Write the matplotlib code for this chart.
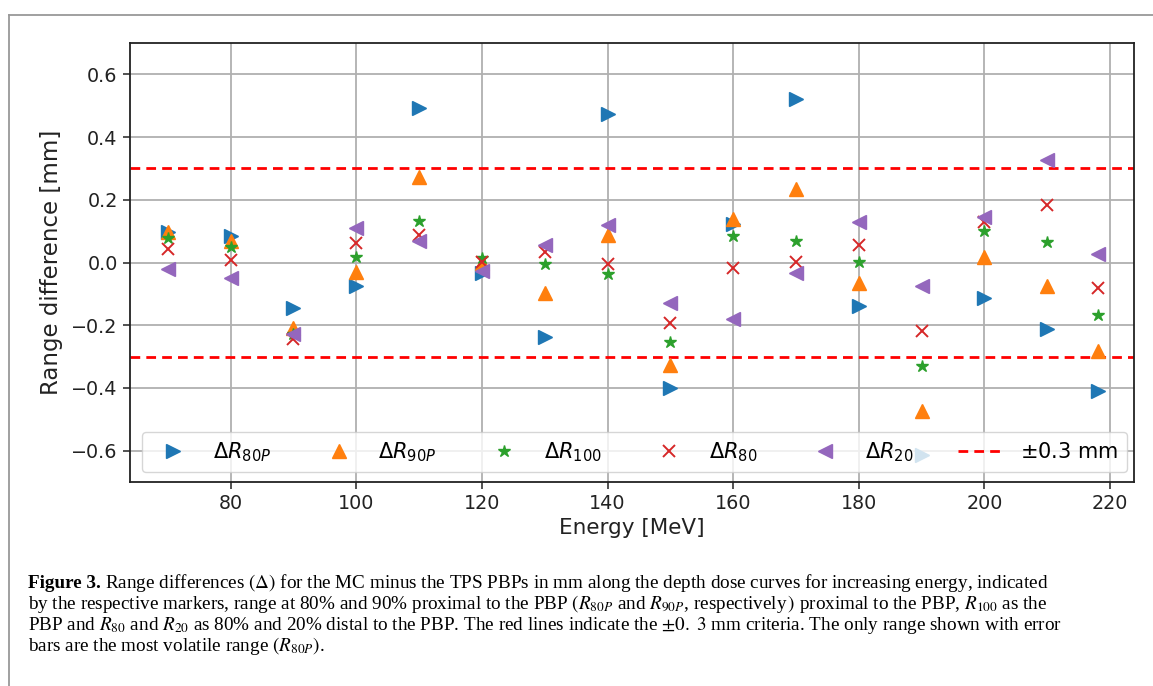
import matplotlib
matplotlib.use("Agg")
import matplotlib.pyplot as plt
from matplotlib.lines import Line2D

# ---- data ----
energy = [70, 80, 90, 100, 110, 120, 130, 140, 150, 160, 170, 180, 190, 200, 210, 218]
d_r80p = [0.096, 0.085, -0.145, -0.075, 0.493, -0.035, -0.236, 0.472, -0.400, 0.123, 0.521, -0.138, -0.613, -0.112, -0.213, -0.411]
d_r90p = [0.096, 0.070, -0.209, -0.030, 0.274, 0.000, -0.096, 0.089, -0.328, 0.140, 0.235, -0.065, -0.474, 0.016, -0.075, -0.281]
d_r100 = [0.078, 0.050, -0.227, 0.019, 0.132, 0.015, -0.005, -0.038, -0.253, 0.086, 0.070, 0.003, -0.331, 0.100, 0.066, -0.166]
d_r80 = [0.043, 0.009, -0.245, 0.061, 0.087, 0.002, 0.034, -0.004, -0.193, -0.018, 0.003, 0.057, -0.218, 0.129, 0.183, -0.080]
d_r20 = [-0.022, -0.048, -0.227, 0.110, 0.069, -0.026, 0.057, 0.121, -0.128, -0.181, -0.035, 0.128, -0.076, 0.145, 0.328, 0.027]
criterion = 0.3

series_labels = [r"$\Delta R_{80P}$", r"$\Delta R_{90P}$", r"$\Delta R_{100}$", r"$\Delta R_{80}$", r"$\Delta R_{20}$"]
crit_label = r"$\pm$0.3 mm"
xlabel = "Energy [MeV]"
ylabel = "Range difference [mm]"
xticks = [80, 100, 120, 140, 160, 180, 200, 220]
yticks = [-0.6, -0.4, -0.2, 0.0, 0.2, 0.4, 0.6]

W, H = 1153, 686
fig = plt.figure(figsize=(W / 100, H / 100), dpi=100)
fig.patch.set_facecolor("white")

ax = fig.add_axes([129.5 / W, 1 - 482 / H, (1134 - 129.5) / W, (482 - 43) / H])

styles = [
    dict(marker=">", color="#1f77b4", ms=9.5),
    dict(marker="^", color="#ff7f0e", ms=9.5),
    dict(marker="*", color="#2ca02c", ms=9),
    dict(marker="x", color="#d62728", ms=8.5, mew=1.4),
    dict(marker="<", color="#9467bd", ms=9.5),
]
data = [d_r80p, d_r90p, d_r100, d_r80, d_r20]
handles = []
for vals, st, lab in zip(data, styles, series_labels):
    h, = ax.plot(energy, vals, linestyle="none", label=lab, zorder=3, **st)
    handles.append(h)

hl = ax.axhline(criterion, color="red", linestyle="--", lw=2, dashes=(3.5, 2.2), zorder=2, label=crit_label)
ax.axhline(-criterion, color="red", linestyle="--", lw=2, dashes=(3.5, 2.2), zorder=2)
handles.append(hl)

ax.set_xlim(63.9, 223.8)
ax.set_ylim(-0.7, 0.7)
ax.set_xticks(xticks)
ax.set_yticks(yticks)
ax.set_yticklabels([("\u2212" if v < 0 else "") + f"{abs(v):.1f}" for v in yticks])
ax.grid(True, color="#b0b0b0", lw=1.3)
ax.set_axisbelow(True)
for s in ax.spines.values():
    s.set_linewidth(1.3)
    s.set_color("#222222")
ax.tick_params(labelsize=13.8, length=5, width=1.1, colors="#222222")
ax.set_xlabel(xlabel, fontsize=15.5, color="#222222", labelpad=4)
ax.set_ylabel(ylabel, fontsize=16.5, color="#222222", labelpad=6)

leg = ax.legend(handles=handles, ncol=6, loc="lower left",
                bbox_to_anchor=(0.0124, 0.0228, 0.9806, 0.1025), mode="expand",
                borderaxespad=0, fontsize=15, framealpha=0.8, handlelength=2.2,
                handletextpad=0.8, columnspacing=1.0)

# ---- border ----
fig.add_artist(Line2D([8.5 / W, 8.5 / W], [0, 1 - 14.5 / H], color="#999999", lw=1.3,
                      transform=fig.transFigure))
fig.add_artist(Line2D([8.5 / W, 1], [1 - 14.5 / H, 1 - 14.5 / H], color="#999999", lw=1.3,
                      transform=fig.transFigure))

# ---- caption ----
cap_font = "Liberation Serif"
cap_size = 13.8
x0 = 28 / W
lines_y = [588, 609, 630, 651]
fig.canvas.draw()
r = fig.canvas.get_renderer()
t_bold = fig.text(x0, 1 - lines_y[0] / H, "Figure 3.", fontsize=cap_size, family=cap_font,
                  weight="bold", va="baseline", ha="left")
bb = t_bold.get_window_extent(renderer=r)
fig.text(bb.x1 / W + 4 / W, 1 - lines_y[0] / H,
         r"Range differences $(\Delta)$ for the MC minus the TPS PBPs in mm along the depth dose curves for increasing energy, indicated",
         fontsize=cap_size, family=cap_font, va="baseline", ha="left", math_fontfamily="stix")
cap_rest = [
    r"by the respective markers, range at 80% and 90% proximal to the PBP $(R_{80P}$ and $R_{90P}$, respectively$\,)$ proximal to the PBP, $R_{100}$ as the",
    r"PBP and $R_{80}$ and $R_{20}$ as 80% and 20% distal to the PBP. The red lines indicate the $\pm0.\ 3$ mm criteria. The only range shown with error",
    r"bars are the most volatile range $(R_{80P})$.",
]
for ly, txt in zip(lines_y[1:], cap_rest):
    fig.text(x0, 1 - ly / H, txt, fontsize=cap_size, family=cap_font, va="baseline", ha="left",
             math_fontfamily="stix")

fig.savefig("out.png", dpi=100)
